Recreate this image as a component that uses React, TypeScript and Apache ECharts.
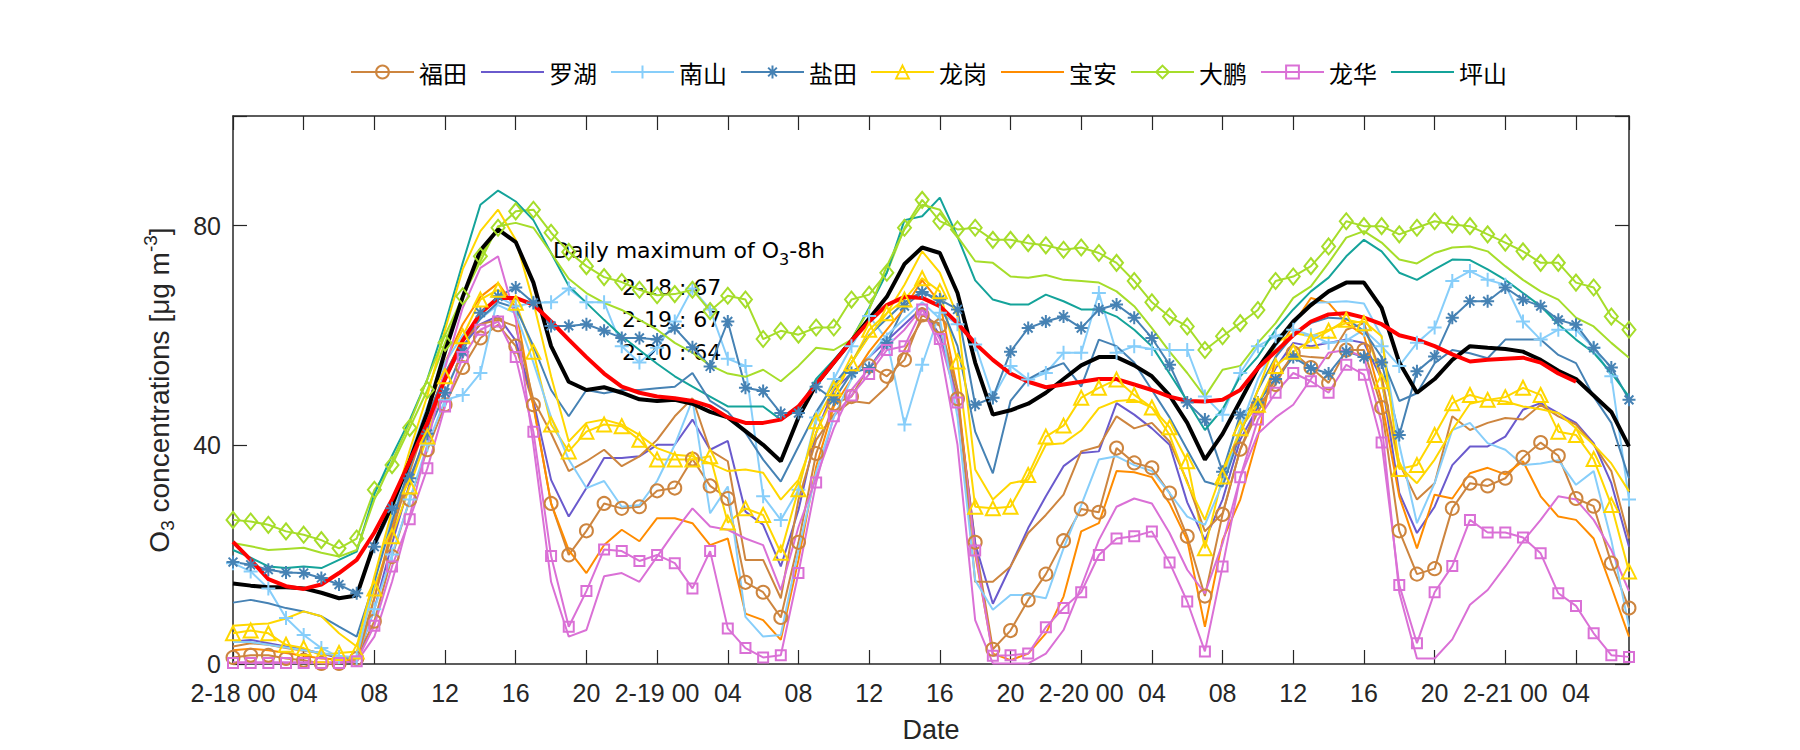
import React, { useEffect, useRef } from 'react';
import * as echarts from 'echarts';

// ---------- data (hourly, 2-18 00:00 .. 2-21 07:00) ----------
const stations = ['福田', '罗湖', '南山', '盐田', '龙岗', '宝安', '大鹏', '龙华', '坪山'];
const dayLabels = ['2-18', '2-19', '2-20', '2-21'];
const yTickLabels = [0, 40, 80];

const futianObs = [1.2, 1.6, 1.6, 1, 0.7, 0.1, 0.1, 1, 7.8, 19.6, 30, 39.1, 47.3, 54.1, 59.5, 61.9, 58, 47.3, 29.3, 19.9, 24.3, 29.3, 28.4, 28.7, 31.6, 32.1, 37.4, 32.5, 30.2, 14.9, 13.1, 8.5, 22.2, 38.4, 47.5, 48.8, 54.4, 52.5, 55.5, 63.7, 61.7, 48.4, 22.2, 2.7, 6.1, 11.7, 16.4, 22.5, 28.3, 27.7, 39.4, 36.7, 35.8, 31.2, 23.3, 12.4, 27.3, 39.2, 47, 51, 56.8, 54.1, 51.3, 57.3, 57.3, 46.8, 24.3, 16.4, 17.4, 28.4, 33, 32.5, 33.9, 37.7, 40.4, 38, 30.2, 28.8, 18.4, 10.2];
const futianSim = [3.2, 3.8, 3.5, 2.9, 2.4, 2, 1.3, 1.3, 12, 24, 35, 45, 53, 59, 62, 62.8, 61.6, 48.2, 42.1, 35.2, 37, 39.1, 36.1, 37.9, 40.9, 45.2, 48.5, 39, 37, 19, 19, 12, 30, 40.9, 45.5, 48, 47.6, 50.6, 57.3, 62.8, 62.2, 50, 15, 15, 17.8, 23.9, 27.2, 30.9, 38.8, 39.7, 45.2, 43, 44, 40.6, 33.3, 24.2, 27.5, 39.1, 46, 52, 56.4, 56, 55.8, 61, 62.2, 52.5, 36.6, 30, 33, 45.2, 42.7, 44, 44.9, 44.6, 47.3, 45.2, 43.7, 40, 35.2, 22.9];
const luohu = [4.1, 4.4, 3.8, 3.2, 2.7, 1.9, 1.1, 0.9, 10, 22, 33, 43, 52, 58, 62, 63.5, 59, 48, 33.6, 26.9, 32.1, 37.6, 37.6, 37.9, 40, 40, 44.6, 39.1, 40.7, 27.8, 25.4, 17.8, 28.1, 42.2, 50, 53, 56, 59, 62, 65, 60, 48, 22, 11, 17.8, 24.8, 30.6, 36.1, 38.5, 38.8, 47.6, 45.5, 43, 40, 29.5, 22.6, 30, 40.9, 47, 54, 58.6, 58, 58.6, 59.2, 58.6, 52, 31.2, 23.9, 28.7, 36.3, 39.7, 39.7, 41.5, 46.4, 47.6, 45.8, 44, 40.3, 33, 21.4];
const nanshanObs = [18.4, 16.9, 13.8, 8.4, 5.3, 2.9, 1.3, 1.1, 10, 20, 30, 40, 48.2, 49.1, 53.1, 67, 65.3, 65.9, 66, 68.5, 66, 66, 58, 55, 57.7, 62.5, 68.5, 64.7, 55.7, 54.4, 30.6, 26.3, 31.8, 45, 52, 58, 63.5, 59.2, 43.7, 54.6, 64.1, 62, 58.3, 48.6, 54.4, 51.9, 53.1, 56.8, 56.8, 67.7, 56.8, 58, 57.5, 57.3, 57.3, 48.8, 45.5, 53.1, 58, 59.8, 61, 60, 58.6, 59, 61, 58, 54.4, 58.6, 61.4, 69.9, 71.7, 70.1, 69.2, 62.5, 59.2, 61, 61, 57.7, 52.5, 30];
const nanshanSim = [4, 4, 3.5, 3, 2.5, 2, 1.5, 1.2, 15, 27, 38, 47, 55, 60, 63, 65.5, 64, 55, 45, 37.3, 32.1, 33.4, 28.7, 29, 33.4, 40, 48.2, 27.5, 32.4, 8.6, 5, 5.3, 20.8, 35, 45, 52, 56, 60, 63, 66, 63, 45, 15.3, 9.9, 12.6, 12.6, 12, 21.1, 29, 37.3, 37.9, 36.3, 35.2, 31.2, 26.9, 25.4, 33, 43, 52, 58, 62, 65.9, 66, 66.2, 65.8, 59.8, 40, 25.7, 33, 42.7, 44, 40.3, 39.1, 36.3, 36.6, 37.2, 32.7, 35.2, 22.6, 6.8];
const yantianObs = [18.6, 18.1, 17.2, 16.7, 16.6, 15.7, 14.5, 12.9, 21.4, 28.4, 33.9, 42, 49.5, 57, 64.1, 67.1, 68.7, 65.9, 61.7, 61.7, 62, 60.8, 59.5, 59.5, 59.2, 61.3, 57.8, 54.3, 62.5, 50.4, 49.8, 45.8, 45.8, 50.6, 48.2, 53.1, 54, 58.6, 65.3, 67.9, 66.5, 64.7, 47.3, 48.6, 57, 61.3, 62.5, 63.4, 61.3, 64.7, 65.6, 63.2, 59.5, 54.6, 47.7, 44.6, 35.1, 45.5, 47.7, 52, 56, 54, 53, 57, 56, 55, 41.8, 53.4, 56.1, 63.2, 66.2, 66.2, 68.7, 66.5, 65.3, 62.8, 61.9, 57.7, 54.1, 48.2];
const yantianSim = [11.2, 11.7, 11.1, 10.2, 9.6, 8.7, 6.8, 5, 15, 26, 36, 45, 53, 59, 63, 66, 65, 58, 50, 45.2, 50, 49.4, 50, 50, 50.3, 50.6, 53.1, 48, 46, 42.2, 37.3, 33.3, 39.7, 46, 51, 55, 60, 63, 66, 68, 66, 58, 42.4, 34.8, 48, 52, 53.7, 54.9, 50.6, 59.2, 58, 55, 50, 45, 39.1, 33.3, 32.4, 42, 50, 56, 60, 62.2, 63.2, 63, 60.8, 56, 48, 49.4, 54.9, 57.3, 56.7, 55.8, 59.2, 59.2, 59.2, 56.4, 54.9, 48.8, 44, 33.9];
const longgangObs = [5.6, 6.1, 5.6, 3.5, 2.9, 1.6, 2, 2.3, 13.8, 23.3, 32.4, 41.5, 52.5, 59.8, 66.5, 68.3, 65.9, 57, 43.7, 38.8, 42.4, 43.7, 43.4, 40.9, 37.3, 37.3, 37.3, 37.9, 25.8, 28.4, 27.2, 20.3, 31.9, 44.3, 50.3, 54.9, 61, 64, 66.5, 70.4, 68, 55.2, 28.7, 28.4, 28.7, 34.5, 41.5, 43.5, 48.6, 50.4, 51.9, 49.1, 46.8, 43.2, 37, 21.1, 34.2, 43, 47.3, 54.4, 57, 59, 60.8, 62.8, 62.2, 51.6, 35.6, 36.3, 41.8, 47.6, 49.1, 48.2, 48.7, 50.4, 49.1, 42.4, 41.8, 37.4, 29, 16.9];
const longgangSim = [7, 7.2, 7.4, 8.3, 9.6, 8.7, 5.6, 3.2, 16, 28, 39, 49, 61, 72, 79, 82.9, 77.4, 66, 52.5, 40.6, 44, 44.6, 43.7, 41.8, 39.4, 38.2, 37.9, 36.6, 35.2, 35.5, 34.9, 30, 33.6, 42.2, 49, 55, 59.8, 64, 69.2, 75.3, 71.4, 63.5, 35.5, 30, 33, 33.6, 40, 40.3, 42.6, 46.7, 48, 48.2, 46.8, 41.8, 33, 26.3, 35.4, 42.2, 50, 58.6, 60.4, 59.8, 61, 62.2, 62.5, 59.8, 36.1, 33, 37.3, 42.7, 47.5, 48.2, 47.9, 47, 46.5, 45.8, 43, 40, 36.6, 31.5];
const baoan = [2.5, 2.8, 2.5, 2, 1.5, 1, 0.8, 0.6, 12, 25, 36, 46, 55, 62, 67, 69.5, 65, 47, 29.3, 20.8, 16.6, 21.7, 24.5, 22.4, 26.6, 26.6, 25.7, 21.7, 22.9, 9.2, 8, 4.4, 19, 36, 47, 52, 57, 61, 65, 70, 66, 50, 20, 1.9, 0.7, 1.9, 5.6, 12.3, 24.2, 25.7, 35.2, 35, 34.1, 29.3, 22.6, 6.8, 22.6, 30, 41.5, 56, 62, 66.8, 65.9, 62.2, 60, 48, 30.6, 21.1, 30.9, 30.2, 34.8, 35.8, 34.6, 37, 30.6, 26.9, 26.3, 22.9, 14.1, 5];
const dapengObs = [26.3, 26, 25.4, 24.2, 23.6, 22.6, 21.1, 22.9, 31.8, 36.3, 43.1, 50, 58.6, 67.1, 74.4, 79.6, 82.6, 82.9, 78.7, 75.2, 72.6, 70.6, 69.7, 68.3, 67.3, 67.5, 68.3, 64.4, 67.2, 66.5, 59.3, 60.8, 60.1, 61.4, 61.4, 66.5, 67.4, 71.4, 79.6, 84.7, 80.8, 79.3, 79.6, 77.4, 77.4, 76.8, 76.4, 75.6, 76, 75, 73.2, 69.9, 66, 63.4, 61.6, 57.3, 59.8, 62.2, 64.6, 69.9, 70.7, 72.6, 76.2, 80.8, 79.9, 79.9, 78.4, 79.6, 80.8, 80.2, 79.9, 78.4, 76.9, 75.3, 73.2, 73.2, 69.6, 68.7, 63.4, 61];
const dapengSim = [22.1, 21.5, 20.8, 21, 21.2, 20.3, 19.6, 20.8, 30, 37, 44, 52, 60, 67, 73.5, 79.9, 80.5, 79.6, 75, 70.3, 67.7, 65.9, 64.6, 62.8, 61, 58.6, 56.8, 54.5, 53, 52.4, 53.7, 51.6, 54.4, 57.7, 57.3, 59.2, 64.7, 72.6, 79.3, 83.8, 82.9, 78, 73.5, 73.2, 70.7, 70.5, 71, 70.1, 69.9, 69.6, 68, 65.3, 61.3, 57, 53.1, 48.8, 53.7, 54.4, 58.6, 62.2, 66.8, 68.9, 73.2, 77.8, 79, 76.9, 73.8, 73.1, 75, 76, 76.2, 75.3, 72.6, 70.1, 68, 66.5, 63.2, 61.6, 58.6, 55.9];
const longhuaObs = [0.2, 0.2, 0.2, 0.2, 0.2, 0.2, 0.2, 0.5, 7, 17.8, 26.4, 35.7, 47, 56, 61, 62.5, 56, 42.4, 19.7, 6.8, 13.3, 20.9, 20.6, 18.8, 19.9, 18.4, 13.8, 20.6, 6.5, 2.9, 1.2, 1.6, 16.6, 33.1, 45.2, 49, 52.9, 57.3, 58, 64.7, 59.3, 47.7, 20.7, 1.5, 1.6, 1.9, 6.7, 10.2, 13.1, 19.9, 22.9, 23.3, 24.2, 18.5, 11.4, 2.3, 17.8, 34.1, 44.6, 49.5, 53.1, 51.6, 49.5, 54.6, 52.8, 40.4, 14.4, 3.8, 13.1, 17.9, 26.3, 24, 24, 23.1, 20.2, 12.9, 10.6, 5.6, 1.6, 1.3];
const longhuaSim = [0.3, 0.3, 0.3, 0.3, 0.3, 0.3, 0.3, 0.4, 5, 15, 27, 40, 54, 65, 72.3, 74.4, 63, 40, 15, 5, 6.2, 16, 16.6, 15, 19.6, 24.2, 28.4, 25.1, 24.5, 22.9, 21.7, 13.5, 25, 34, 43, 50, 54, 58, 61, 65, 58, 40, 8, 0.1, 0.1, 0.1, 1.9, 6.2, 14.1, 22.6, 28.7, 30.2, 29.3, 23.9, 17.2, 12.9, 22, 34, 42, 45, 47.3, 52, 56.8, 57.3, 56, 44, 13, 1, 1, 4.5, 10.8, 13.5, 17.8, 22.4, 26.3, 30.6, 30, 26.3, 20.8, 13.3];
const pingshan = [20.8, 19.4, 17.8, 17.5, 17.8, 17.5, 19, 20.5, 31, 38, 44.5, 52, 62, 73.2, 83.8, 86.4, 84.4, 81, 75, 69, 65.9, 62.8, 59.8, 57.3, 54.8, 52.5, 50.6, 48.8, 47, 47, 47, 44.6, 46.4, 52, 55.5, 59.2, 65, 71.4, 81, 81.7, 85.1, 78, 70, 66.5, 65.6, 65.6, 67.4, 66.2, 64.7, 64.7, 63.4, 61, 58, 53, 48, 42.7, 46.5, 52.5, 56.1, 61, 64.7, 68, 70.5, 74.4, 77.4, 75.3, 71.4, 70.1, 72, 73.8, 73.7, 72, 70.1, 67.7, 65.3, 62, 59.2, 56.8, 53.1, 48.8];
const cityMean = [14.7, 14.3, 14.0, 14.0, 13.8, 13, 12, 12.5, 22, 29, 37, 46, 57, 67, 75.5, 79.3, 77, 69.6, 58, 51.5, 50, 50.5, 49.5, 48.3, 48, 48.2, 47.5, 46, 45, 42.5, 40, 37, 45, 51, 55, 59, 63, 67, 73, 76, 75, 67.7, 55, 45.5, 46.3, 47.5, 49.5, 52, 54.5, 56, 56, 54.5, 52.5, 49, 44, 37.3, 42, 48, 54, 58.5, 62.5, 65.5, 68, 69.6, 69.6, 65, 55, 49.5, 52, 55.5, 58, 57.7, 57.5, 57, 55.5, 53.5, 52, 49, 46, 39.7];
const movingMean = [22.3, 19, 15.5, 14.2, 13.7, 14.5, 16.6, 19, 24, 30, 37, 44, 52, 59, 64, 66.8, 66.8, 65.6, 62.5, 59.2, 56, 53, 50.6, 49.5, 48.8, 48.5, 48, 47, 45, 44, 44, 44.6, 47, 51, 55, 59, 62.5, 65.5, 67, 66.8, 65.3, 62.2, 58.5, 55.5, 53, 51.5, 50.5, 51, 51.5, 52, 52, 51, 50, 48.8, 48, 47.9, 48.2, 50, 54, 57, 60, 62.5, 63.8, 64, 63.2, 62, 60, 59.2, 58, 56.5, 55.2, 55.5, 55.7, 55.9, 55, 53, 51.5, null, null, null];

const dailyMaxDays = ['2-18', '2-19', '2-20'];
const dailyMaxValues = [67, 67, 64];

// ---------- styling ----------
const C = {
  futian: '#CD853F',
  luohu: '#6A5ACD',
  nanshan: '#87CEFA',
  yantian: '#4682B4',
  longgang: '#FFD700',
  baoan: '#FF8C00',
  dapeng: '#A6DD2A',
  longhua: '#DA70D6',
  pingshan: '#14A39A',
};
const AX = '#262626';
const LATIN = 'Liberation Sans, Arial, Helvetica, sans-serif';
const ANNO = 'DejaVu Sans, Liberation Sans, sans-serif';
const CJK = 'Noto Sans CJK SC, sans-serif';

const PLUS = 'path://M5,0L5,10M0,5L10,5';
const STAR = 'path://M5,0L5,10M0,5L10,5M1.6,1.6L8.4,8.4M1.6,8.4L8.4,1.6';

const toPairs = (arr: (number | null)[]) => arr.map((v, i) => [i, v]);

const markerSeries = (name: string, data: number[], color: string, symbol: string, size: number | number[]) => ({
  name,
  type: 'line',
  data: toPairs(data),
  symbol,
  symbolSize: size,
  showSymbol: true,
  showAllSymbol: true,
  lineStyle: { color, width: 2 },
  itemStyle: { color: 'rgba(0,0,0,0)', borderColor: color, borderWidth: 2 },
  emphasis: { disabled: true },
  silent: true,
});

const plainSeries = (name: string, data: (number | null)[], color: string, width = 2) => ({
  name,
  type: 'line',
  data: toPairs(data),
  symbol: 'none',
  showSymbol: false,
  lineStyle: { color, width },
  itemStyle: { color },
  emphasis: { disabled: true },
  silent: true,
});

const xLabel = (v: number) => {
  if (v % 4 !== 0) return '';
  const h = v % 24;
  const hh = h < 10 ? '0' + h : String(h);
  if (h === 0) return dayLabels[v / 24] + ' ' + hh;
  return hh;
};

const hiddenLegend = { color: 'rgba(0,0,0,0)', borderColor: 'rgba(0,0,0,0)', borderWidth: 0 };

const frameAxis = {
  axisLine: { show: true, onZero: false, lineStyle: { color: AX, width: 1.5 } },
  axisTick: { show: true, inside: true, length: 14, lineStyle: { color: AX, width: 1.2 } },
  splitLine: { show: false },
};

const option = {
  animation: false,
  backgroundColor: '#ffffff',
  textStyle: { fontFamily: LATIN },
  legend: {
    top: 55,
    left: 345,
    itemWidth: 63,
    itemHeight: 16,
    itemGap: 13,
    textStyle: { fontFamily: CJK, fontSize: 24, color: '#000' },
    data: [
      { name: '福田' },
      { name: '罗湖', itemStyle: hiddenLegend },
      { name: '南山' },
      { name: '盐田' },
      { name: '龙岗' },
      { name: '宝安', itemStyle: hiddenLegend },
      { name: '大鹏' },
      { name: '龙华' },
      { name: '坪山', itemStyle: hiddenLegend },
    ],
  },
  grid: { left: 233, right: 171, top: 116, bottom: 86, containLabel: false },
  xAxis: [
    {
      type: 'value',
      position: 'bottom',
      min: 0,
      max: 79,
      interval: 4,
      ...frameAxis,
      axisLabel: { formatter: xLabel, fontSize: 25, color: AX, margin: 16, fontFamily: LATIN },
      name: 'Date',
      nameLocation: 'middle',
      nameGap: 52,
      nameTextStyle: { fontSize: 27, color: AX, fontFamily: LATIN },
    },
    {
      type: 'value',
      position: 'top',
      min: 0,
      max: 79,
      interval: 4,
      ...frameAxis,
      axisLabel: { show: false },
    },
  ],
  yAxis: [
    {
      type: 'value',
      position: 'left',
      min: 0,
      max: 100,
      interval: 40,
      ...frameAxis,
      axisLabel: {
        formatter: (v: number) => (yTickLabels.indexOf(v) >= 0 ? String(v) : ''),
        fontSize: 25,
        color: AX,
        margin: 12,
        fontFamily: LATIN,
      },
      name: '{t|O}{s|3}{t| concentrations [}{t|μg m}{p|-3}{t|]}',
      nameLocation: 'middle',
      nameRotate: 90,
      nameGap: 56,
      nameTextStyle: {
        color: AX,
        fontFamily: LATIN,
        fontSize: 28,
        rich: {
          t: { fontSize: 28, fontFamily: LATIN, color: AX, lineHeight: 36 },
          s: { fontSize: 19, fontFamily: LATIN, color: AX, lineHeight: 17, verticalAlign: 'bottom' },
          p: { fontSize: 19, fontFamily: LATIN, color: AX, lineHeight: 17, verticalAlign: 'top' },
        },
      },
    },
    {
      type: 'value',
      position: 'right',
      min: 0,
      max: 100,
      interval: 40,
      ...frameAxis,
      axisLabel: { show: false },
    },
  ],
  graphic: [
    {
      type: 'text',
      x: 553,
      y: 250,
      silent: true,
      style: {
        text: '{a|Daily maximum of O}{s|3}{a|-8h}',
        verticalAlign: 'middle',
        rich: {
          a: { fontSize: 22, fontFamily: ANNO, fill: '#000', lineHeight: 34 },
          s: { fontSize: 16, fontFamily: ANNO, fill: '#000', lineHeight: 14, verticalAlign: 'bottom' },
        },
      },
    },
    ...dailyMaxDays.map((d, i) => ({
      type: 'text',
      x: 622,
      y: 287 + i * 32.5,
      silent: true,
      style: {
        text: d + ' : ' + dailyMaxValues[i],
        fontSize: 22,
        fontFamily: ANNO,
        fill: '#000',
        verticalAlign: 'middle',
      },
    })),
  ],
  series: [
    markerSeries('福田', futianObs, C.futian, 'circle', 13),
    plainSeries('罗湖', luohu, C.luohu),
    markerSeries('南山', nanshanObs, C.nanshan, PLUS, 14),
    markerSeries('盐田', yantianObs, C.yantian, STAR, 13),
    markerSeries('龙岗', longgangObs, C.longgang, 'triangle', 14),
    plainSeries('宝安', baoan, C.baoan),
    markerSeries('大鹏', dapengObs, C.dapeng, 'diamond', [13, 16]),
    markerSeries('龙华', longhuaObs, C.longhua, 'rect', 10),
    plainSeries('坪山', pingshan, C.pingshan),
    plainSeries('福田 sim', futianSim, C.futian),
    plainSeries('南山 sim', nanshanSim, C.nanshan),
    plainSeries('盐田 sim', yantianSim, C.yantian),
    plainSeries('龙岗 sim', longgangSim, C.longgang),
    plainSeries('大鹏 sim', dapengSim, C.dapeng),
    plainSeries('龙华 sim', longhuaSim, C.longhua),
    plainSeries('平均', cityMean, '#000000', 4),
    plainSeries('滑动平均', movingMean, '#FF0000', 4),
  ],
};

export default function App() {
  const ref = useRef<HTMLDivElement>(null);
  useEffect(() => {
    document.body.style.margin = '0';
    if (!ref.current) return;
    const chart = echarts.init(ref.current, null, { renderer: 'svg' });
    chart.setOption(option as any);
    return () => chart.dispose();
  }, []);
  return <div ref={ref} style={{ width: 1800, height: 750 }} />;
}
